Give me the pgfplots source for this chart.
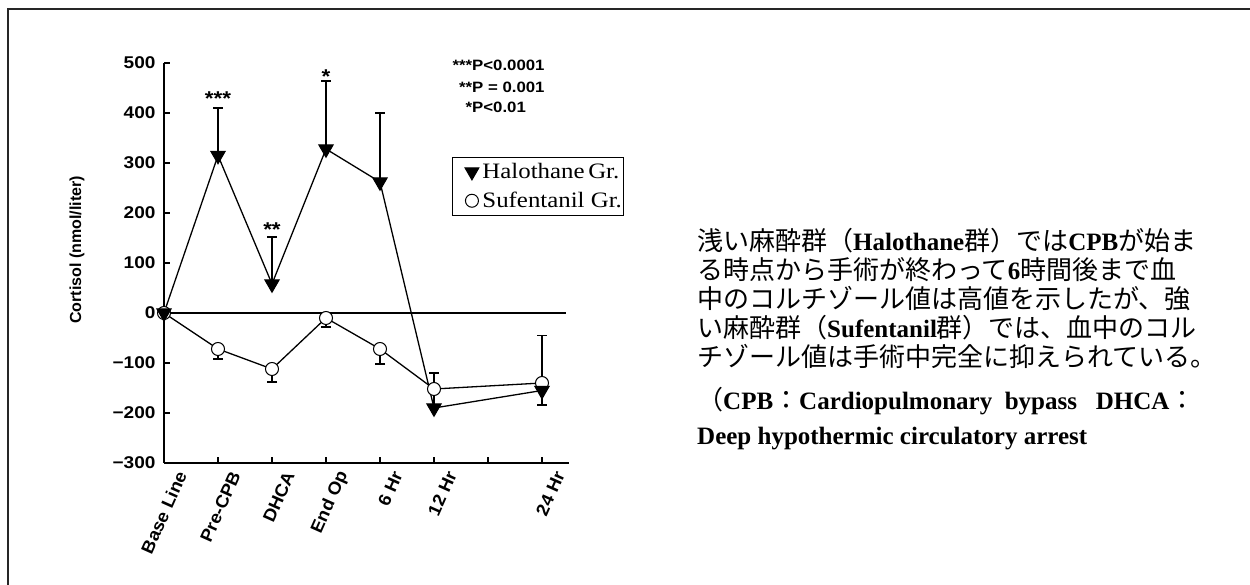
\documentclass[border=0pt]{standalone}
\usepackage{fontspec}
\usepackage{pgfplots}
\pgfplotsset{compat=1.18}
\pgfplotsset{mylegimg/.style={legend image code/.code={\draw[##1] plot coordinates {(0pt,0pt)}; \path (-18pt,0pt) (9pt,0pt);}}}
\setmainfont{Liberation Serif}
\newfontfamily\chartfont[FakeStretch=1.12]{Liberation Sans}
\newfontfamily\chartfontx[FakeStretch=1.06]{Liberation Sans}
\newfontfamily\chartfontv{Liberation Sans}
\newfontfamily\legfont[FakeStretch=1.13]{Liberation Serif}
\newfontfamily\jafont{Noto Sans CJK JP}
\newfontfamily\latfont{Liberation Serif}
\newcommand\lat[1]{{\latfont\bfseries\fontsize{25}{30}\selectfont #1}}
\newcommand\ja{\jafont\fontsize{26}{30}\selectfont}
\begin{document}
\begin{tikzpicture}
\useasboundingbox (0,0) rectangle (1250pt,585pt);
\draw[line width=2pt, black!85] (8pt,0pt) -- (8pt,576pt) -- (1250pt,576pt);
\begin{axis}[
  scale only axis, width=405pt, height=400pt,
  at={(164pt,122pt)}, anchor=south west,
  xmin=0, xmax=7.5, ymin=-300, ymax=500,
  axis x line=bottom, axis y line=left,
  axis line style={-, line width=1.3pt, black},
  tick align=inside, major tick length=6pt,
  tick style={line width=1.3pt, black},
  xtick={0,1,2,3,4,5,6,7},
  xticklabels={Base Line, Pre-CPB, DHCA, End Op, 6 Hr, 12 Hr, , 24 Hr},
  ytick={-300,-200,-100,0,100,200,300,400,500},
  yticklabels={−300,−200,−100,0,100,200,300,400,500},
  yticklabel style={font=\chartfont\bfseries\fontsize{17}{20}\selectfont, xshift=-5pt},
  xticklabel style={font=\chartfontx\bfseries\fontsize{17.5}{20}\selectfont, rotate=66, anchor=east, yshift=-20pt, xshift=2pt},
  ylabel={Cortisol (nmol/liter)},
  ylabel style={font=\chartfontv\bfseries\fontsize{16}{20}\selectfont, at={(axis description cs:-0.215,0.533)}, anchor=center},
  clip=false,
  legend style={at={(0.711,0.765)}, anchor=north west, draw=black, line width=1pt,
    font=\legfont\fontsize{22}{24}\selectfont, inner xsep=1pt, inner ysep=5pt,
    row sep=10pt, nodes={inner sep=1pt},
    /tikz/every even column/.append style={column sep=0pt},
    /tikz/every odd column/.append style={column sep=0pt}},
  legend cell align=left,
]
\addlegendimage{only marks, mylegimg, mark=triangle*, mark size=8pt, mark options={rotate=180, fill=black, draw=black}}
\addlegendentry{Halothane\,Gr.}
\addlegendimage{only marks, mylegimg, mark=*, mark size=6.5pt, mark options={fill=white, draw=black, line width=1pt}}
\addlegendentry{Sufentanil Gr.}
% zero line
\addplot[black, line width=1.3pt, forget plot] coordinates {(0,0) (7.45,0)};
% Sufentanil
\addplot[black, line width=1.3pt, forget plot, mark=*, mark size=6.5pt,
  mark options={fill=white, draw=black, line width=1pt},
  error bars/.cd, y dir=minus, y explicit,
  error mark options={rotate=90, black, mark size=5pt, line width=1.3pt},
  error bar style={line width=1.3pt, black}]
coordinates {
(0,0) -= (0,0)
(1,-72) -= (0,20)
(2,-112) -= (0,26)
(3,-10) -= (0,18)
(4,-72) -= (0,30)
(5,-152) -= (0,0)
(7,-140) -= (0,44)
};
% Halothane
\addplot[black, line width=1.3pt, forget plot, mark=triangle*, mark size=8pt,
  mark options={rotate=180, fill=black, draw=black},
  error bars/.cd, y dir=plus, y explicit,
  error mark options={rotate=90, black, mark size=5pt, line width=1.3pt},
  error bar style={line width=1.3pt, black}]
coordinates {
(0,0) += (0,0)
(1,315) += (0,95)
(2,58) += (0,94)
(3,328) += (0,136)
(4,262) += (0,138)
(5,-190) += (0,70)
(7,-155) += (0,110)
};
\node[font=\chartfont\bfseries\fontsize{20}{22}\selectfont, anchor=base, inner sep=0pt] at (axis cs:1,414) {***};
\node[font=\chartfont\bfseries\fontsize{20}{22}\selectfont, anchor=base, inner sep=0pt] at (axis cs:2,152) {**};
\node[font=\chartfont\bfseries\fontsize{20}{22}\selectfont, anchor=base, inner sep=0pt] at (axis cs:3,458) {*};
\end{axis}
% p-values
\node[font=\chartfont\bfseries\fontsize{15}{18}\selectfont, anchor=base west, inner sep=0pt] at (472pt,514pt) {\llap{***}P<0.0001};
\node[font=\chartfont\bfseries\fontsize{15}{18}\selectfont, anchor=base west, inner sep=0pt] at (472pt,492pt) {\llap{**}P = 0.001};
\node[font=\chartfont\bfseries\fontsize{15}{18}\selectfont, anchor=base west, inner sep=0pt] at (472pt,472pt) {\llap{*}P<0.01};
% Japanese description
\node[anchor=base west, inner sep=0pt] at (697pt,334pt) {\ja 浅い麻酔群（\lat{Halothane}群）では\lat{CPB}が始ま};
\node[anchor=base west, inner sep=0pt] at (697pt,305pt) {\ja る時点から手術が終わって\lat{6}時間後まで血};
\node[anchor=base west, inner sep=0pt] at (697pt,276pt) {\ja 中のコルチゾール値は高値を示したが、強};
\node[anchor=base west, inner sep=0pt] at (697pt,247pt) {\ja い麻酔群（\lat{Sufentanil}群）では、血中のコル};
\node[anchor=base west, inner sep=0pt] at (697pt,218pt) {\ja チゾール値は手術中完全に抑えられている。};
\node[anchor=base west, inner sep=0pt] at (697pt,175pt) {\ja （\lat{CPB}：\lat{Cardiopulmonary\ \ bypass\ \ \ DHCA}：};
\node[anchor=base west, inner sep=0pt] at (697pt,140pt) {\lat{Deep hypothermic circulatory arrest}};
\end{tikzpicture}
\end{document}
